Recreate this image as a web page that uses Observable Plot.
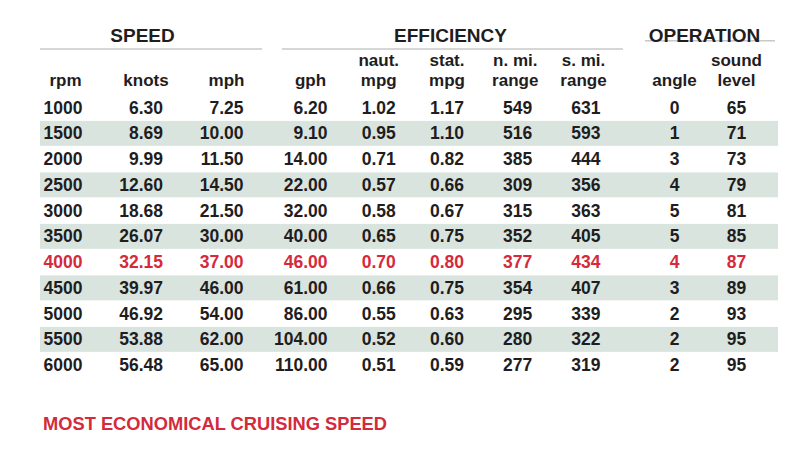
<!DOCTYPE html>
<html><head><meta charset="utf-8">
<script src="https://cdn.jsdelivr.net/npm/d3@7"></script>
<script src="https://cdn.jsdelivr.net/npm/@observablehq/plot@0.6"></script>
<style>
body{margin:0;background:#fff;}
#wrap{position:relative;width:800px;height:454px;overflow:hidden;}
#table{display:flex;position:absolute;left:40px;top:0;}
#table svg{display:block;flex:none;}
#caption{position:absolute;left:43px;top:415px;font:bold 18.3px/18px "Liberation Sans",Arial,sans-serif;color:#d42a3c;white-space:nowrap;}
</style></head>
<body><div id="wrap"><div id="table"></div><div id="caption">MOST ECONOMICAL CRUISING SPEED</div></div>
<script>
// ---- data ----
const rpm      = [1000, 1500, 2000, 2500, 3000, 3500, 4000, 4500, 5000, 5500, 6000];
const knots    = [6.30, 8.69, 9.99, 12.60, 18.68, 26.07, 32.15, 39.97, 46.92, 53.88, 56.48];
const mph      = [7.25, 10.00, 11.50, 14.50, 21.50, 30.00, 37.00, 46.00, 54.00, 62.00, 65.00];
const gph      = [6.20, 9.10, 14.00, 22.00, 32.00, 40.00, 46.00, 61.00, 86.00, 104.00, 110.00];
const nautMpg  = [1.02, 0.95, 0.71, 0.57, 0.58, 0.65, 0.70, 0.66, 0.55, 0.52, 0.51];
const statMpg  = [1.17, 1.10, 0.82, 0.66, 0.67, 0.75, 0.80, 0.75, 0.63, 0.60, 0.59];
const nmiRange = [549, 516, 385, 309, 315, 352, 377, 354, 295, 280, 277];
const smiRange = [631, 593, 444, 356, 363, 405, 434, 407, 339, 322, 319];
const angle    = [0, 1, 3, 4, 5, 5, 4, 3, 2, 2, 2];
const sound    = [65, 71, 73, 79, 81, 85, 87, 89, 93, 95, 95];
const highlightRpm = 4000;

const groupTitles = ["SPEED", "EFFICIENCY", "OPERATION"];
const groupColumns = [["rpm", "knots", "mph"], ["gph", "naut", "stat", "nmi", "smi"], ["angle", "sound"]];
const columnKeys   = ["rpm", "knots", "mph", "gph", "naut", "stat", "nmi", "smi", "angle", "sound"];
const columnLabels = ["rpm", "knots", "mph", "gph", "naut.\nmpg", "stat.\nmpg", "n. mi.\nrange", "s. mi.\nrange", "angle", "sound\nlevel"];
const columnValues = [rpm, knots, mph, gph, nautMpg, statMpg, nmiRange, smiRange, angle, sound];
const columnDecimals = [0, 2, 2, 2, 2, 2, 0, 0, 0, 0];

// ---- styles / layout ----
const dark = "#1f1d1e", red = "#d42a3c", bandColor = "#d9e4df", ruleColor = "#c8c8c8";
const font = "'Liberation Sans', Arial, Helvetica, sans-serif";
const layout = [
  {width: 232, insetLeft: 42, insetRight: 29, anchor: "end",    headDx: -17, titleDx: -14, lineDy: -33.5,  lineL: 0,  lineR: 10},
  {width: 362, insetLeft: 55, insetRight: 34, anchor: "end",    headDx: -17, titleDx: -3,  lineDy: -33.5,  lineL: 10, lineR: 11},
  {width: 144, insetLeft: 40, insetRight: 42, anchor: "middle", headDx: 0,   titleDx: -2,  lineDy: -41.75, lineL: 11, lineR: 3}
];

const rowKeys = rpm.map(String);
const bandRows = rowKeys.filter((d, i) => i % 2 === 1);

const host = document.getElementById("table");
groupTitles.forEach((title, g) => {
  const L = layout[g];
  const cols = groupColumns[g];
  const headers = cols.map(c => ({col: c, label: columnLabels[columnKeys.indexOf(c)]}));
  const cells = [];
  cols.forEach(c => {
    const ci = columnKeys.indexOf(c);
    columnValues[ci].forEach((v, i) => cells.push({col: c, row: rowKeys[i], text: v.toFixed(columnDecimals[ci]), hl: rpm[i] === highlightRpm}));
  });
  const svg = Plot.plot({
    width: L.width, height: 390,
    marginTop: 69, marginBottom: 12, marginLeft: 0, marginRight: 0,
    style: {fontFamily: font, background: "#fff", overflow: "visible"},
    x: {type: "point", domain: cols, padding: 0, round: false, insetLeft: L.insetLeft, insetRight: L.insetRight, axis: null},
    y: {type: "band", domain: ["head", ...rowKeys], padding: 0, round: false, axis: null},
    marks: [
      Plot.cell(bandRows, {y: d => d, fill: bandColor, insetTop: 0.4, insetBottom: 0.4}),
      Plot.ruleY(["head"], {y: d => d, dy: L.lineDy, stroke: ruleColor, strokeWidth: 1.5, insetLeft: L.lineL, insetRight: L.lineR}),
      Plot.text([title], {text: d => d, frameAnchor: "top", lineAnchor: "middle", dx: L.titleDx, dy: -34, fontSize: 19, fontWeight: "bold", fill: dark}),
      Plot.text(headers, {x: "col", y: () => "head", text: "label", textAnchor: "middle", lineAnchor: "bottom", lineHeight: 1.176, dx: L.headDx, dy: 3.25, fontSize: 17, fontWeight: "bold", fill: dark}),
      Plot.text(cells.filter(d => !d.hl), {x: "col", y: "row", text: "text", textAnchor: L.anchor, fontSize: 17.5, fontWeight: "bold", fill: dark}),
      Plot.text(cells.filter(d => d.hl), {x: "col", y: "row", text: "text", textAnchor: L.anchor, fontSize: 17.5, fontWeight: "bold", fill: red})
    ]
  });
  host.appendChild(svg);
});
</script>
</body></html>
